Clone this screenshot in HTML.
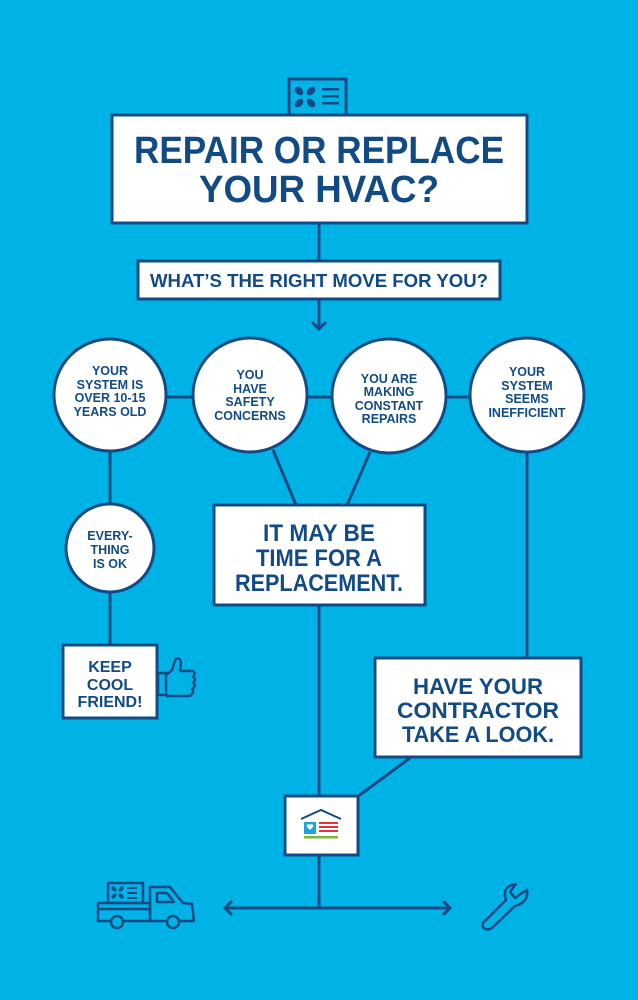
<!DOCTYPE html>
<html><head><meta charset="utf-8"><style>
html,body{margin:0;padding:0;background:#00b3e6;}
svg{display:block;}
text{font-family:"Liberation Sans",sans-serif;font-weight:bold;fill:#124b84;text-anchor:middle;}
</style></head><body>
<svg width="638" height="1000" viewBox="0 0 638 1000" xmlns="http://www.w3.org/2000/svg">
<rect width="638" height="1000" fill="#00b3e6"/>
<g stroke="#124b84" stroke-width="3" fill="none">
  <line x1="319" y1="224" x2="319" y2="260"/>
  <line x1="319" y1="300" x2="319" y2="330"/>
  <polyline points="312,322 319,329 326,322"/>
  <line x1="110" y1="397" x2="527" y2="397"/>
  <line x1="110" y1="450" x2="110" y2="504"/>
  <line x1="110" y1="592" x2="110" y2="644"/>
  <line x1="273" y1="450" x2="296" y2="505"/>
  <line x1="370" y1="452" x2="347" y2="505"/>
  <line x1="527" y1="452" x2="527" y2="657"/>
  <line x1="319" y1="606" x2="319" y2="796"/>
  <line x1="410" y1="758" x2="357" y2="797"/>
  <line x1="319" y1="855" x2="319" y2="908"/>
  <line x1="225" y1="908" x2="450" y2="908"/>
  <polyline points="232,901 225,908 232,915"/>
  <polyline points="443,901 450,908 443,915"/>
</g>
<rect x="289" y="79" width="57" height="36" fill="#00b3e6" stroke="#124b84" stroke-width="3"/>
<g fill="#124b84">
  <ellipse cx="299" cy="91" rx="5" ry="3.5" transform="rotate(45 299 91)"/>
  <ellipse cx="311" cy="91" rx="5" ry="3.5" transform="rotate(-45 311 91)"/>
  <ellipse cx="299" cy="103" rx="5" ry="3.5" transform="rotate(-45 299 103)"/>
  <ellipse cx="311" cy="103" rx="5" ry="3.5" transform="rotate(45 311 103)"/>
  <rect x="322" y="88" width="17" height="2.5"/>
  <rect x="322" y="95" width="17" height="2.5"/>
  <rect x="322" y="102" width="17" height="2.5"/>
</g>
<rect x="112" y="115" width="415" height="108" fill="#fff" stroke="#124b84" stroke-width="3"/>
<text x="319" y="163" font-size="38" textLength="370" lengthAdjust="spacingAndGlyphs">REPAIR OR REPLACE</text>
<text x="319" y="202" font-size="38" textLength="240" lengthAdjust="spacingAndGlyphs">YOUR HVAC?</text>
<rect x="138" y="261" width="362" height="38" fill="#fff" stroke="#124b84" stroke-width="3"/>
<text x="319" y="287" font-size="18" textLength="338" lengthAdjust="spacingAndGlyphs">WHAT’S THE RIGHT MOVE FOR YOU?</text>
<g fill="#fff" stroke="#124b84" stroke-width="3">
  <circle cx="110" cy="395" r="56"/>
  <circle cx="250" cy="395" r="57"/>
  <circle cx="389" cy="396" r="57"/>
  <circle cx="527" cy="395" r="57"/>
  <circle cx="110" cy="548" r="44"/>
</g>
<g font-size="12.5">
  <text x="110" y="375">YOUR</text><text x="110" y="389">SYSTEM IS</text><text x="110" y="402">OVER 10-15</text><text x="110" y="416">YEARS OLD</text>
  <text x="250" y="379">YOU</text><text x="250" y="393">HAVE</text><text x="250" y="406">SAFETY</text><text x="250" y="420">CONCERNS</text>
  <text x="389" y="383">YOU ARE</text><text x="389" y="396">MAKING</text><text x="389" y="410">CONSTANT</text><text x="389" y="423">REPAIRS</text>
  <text x="527" y="376">YOUR</text><text x="527" y="390">SYSTEM</text><text x="527" y="403">SEEMS</text><text x="527" y="417">INEFFICIENT</text>
  <text x="110" y="540">EVERY-</text><text x="110" y="554">THING</text><text x="110" y="568">IS OK</text>
</g>
<rect x="214" y="505" width="211" height="100" fill="#fff" stroke="#124b84" stroke-width="3"/>
<g font-size="24">
  <text x="319" y="541" textLength="112" lengthAdjust="spacingAndGlyphs">IT MAY BE</text>
  <text x="319" y="566" textLength="126" lengthAdjust="spacingAndGlyphs">TIME FOR A</text>
  <text x="319" y="591" textLength="168" lengthAdjust="spacingAndGlyphs">REPLACEMENT.</text>
</g>
<rect x="63" y="645" width="94" height="73" fill="#fff" stroke="#124b84" stroke-width="3"/>
<g font-size="16">
  <text x="110" y="672">KEEP</text><text x="110" y="690">COOL</text><text x="110" y="707">FRIEND!</text>
</g>
<g stroke="#124b84" stroke-width="2.5" fill="none" stroke-linejoin="round">
  <rect x="158" y="673" width="8" height="22"/>
  <path d="M166 675 L172 670 L175 660 Q179 656 181 662 L180 671 L193 671 Q196 673 193 677 Q197 679 193 683 Q197 685 192 689 Q195 692 190 696 L166 696"/>
</g>
<rect x="375" y="658" width="206" height="99" fill="#fff" stroke="#124b84" stroke-width="3"/>
<g font-size="22">
  <text x="478" y="694" textLength="130" lengthAdjust="spacingAndGlyphs">HAVE YOUR</text>
  <text x="478" y="718" textLength="162" lengthAdjust="spacingAndGlyphs">CONTRACTOR</text>
  <text x="478" y="742" textLength="152" lengthAdjust="spacingAndGlyphs">TAKE A LOOK.</text>
</g>
<rect x="285" y="796" width="73" height="59" fill="#fff" stroke="#124b84" stroke-width="3"/>
<polyline points="301,819 321,810 341,819" fill="none" stroke="#124b84" stroke-width="2"/>
<rect x="304" y="822" width="12" height="12" fill="#1aa3dc"/>
<path d="M310 830 l-3-3 a1.8 1.8 0 0 1 3-2 a1.8 1.8 0 0 1 3 2 z" fill="#fff"/>
<g fill="#e8303a"><rect x="319" y="822" width="19" height="2"/><rect x="319" y="826" width="19" height="2"/><rect x="319" y="830" width="19" height="2"/></g>
<rect x="304" y="836" width="34" height="2.5" fill="#7ab83a"/>
<g stroke="#124b84" stroke-width="2.5" fill="none" stroke-linejoin="round">
  <rect x="108" y="883" width="35" height="20"/>
  <rect x="98" y="903" width="52" height="18"/>
  <line x1="98" y1="909" x2="150" y2="909"/>
  <path d="M150 921 L150 887 L170 887 L183 903 L192 904 L194 921 Z"/>
  <path d="M157 893 L167 893 L174 902 L157 902 Z"/>
  <circle cx="117" cy="922" r="6" fill="#00b3e6"/>
  <circle cx="173" cy="922" r="6" fill="#00b3e6"/>
</g>
<g fill="#124b84">
  <ellipse cx="114" cy="889" rx="3" ry="2" transform="rotate(45 114 889)"/>
  <ellipse cx="121" cy="889" rx="3" ry="2" transform="rotate(-45 121 889)"/>
  <ellipse cx="114" cy="896" rx="3" ry="2" transform="rotate(-45 114 896)"/>
  <ellipse cx="121" cy="896" rx="3" ry="2" transform="rotate(45 121 896)"/>
  <rect x="127" y="887" width="10" height="2"/>
  <rect x="127" y="892" width="10" height="2"/>
  <rect x="127" y="897" width="10" height="2"/>
</g>
<g stroke="#124b84" stroke-width="2.5" fill="none" stroke-linejoin="round">
  <path d="M486 920 L506 900 Q502 888 512 885 L516 884 L510 892 L515 898 L522 893 L527 890 Q529 902 515 906 L493 927 Q487 932 483 927 Q481 923 486 920 Z"/>
</g>
</svg>
</body></html>
